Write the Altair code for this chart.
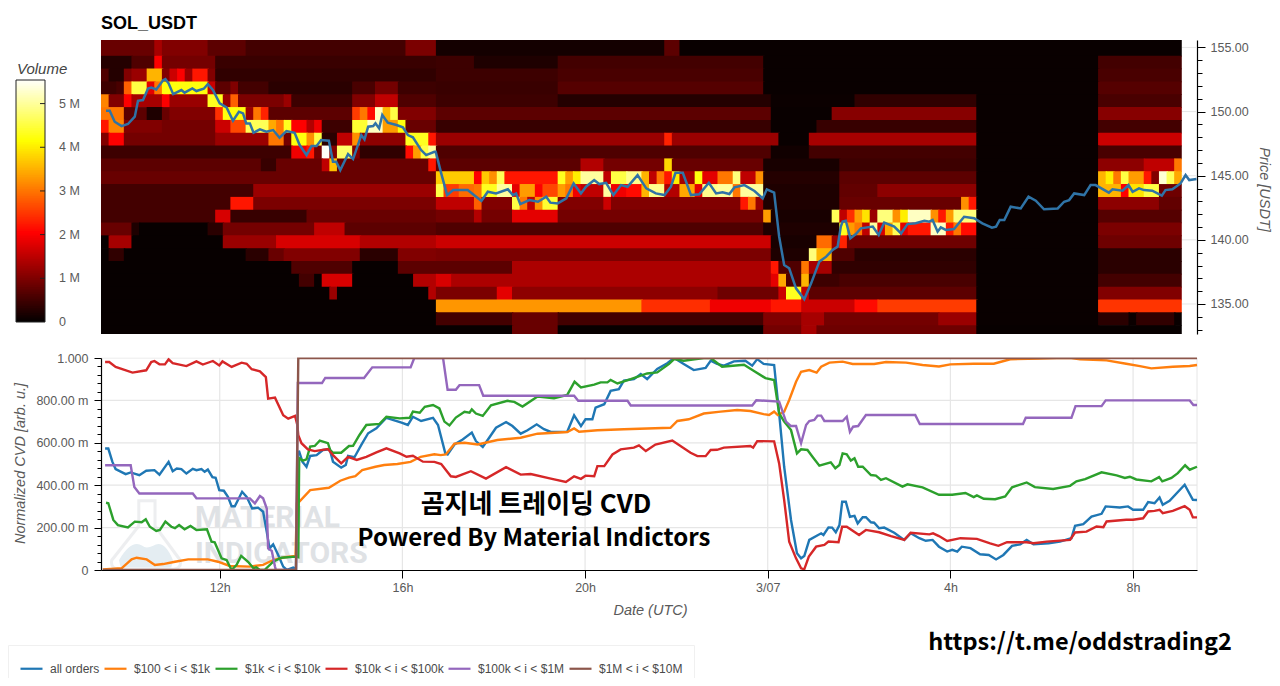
import altair as alt
import pandas as pd

# hours since 3/06 00:00 -> normalized CVD
all_orders = [(9.49,.573),(9.56,.573),(9.65,.51),(9.72,.476),(9.94,.452),(10.05,.46),(10.24,.447),(10.39,.468),(10.57,.471),(10.68,.45),(10.88,.51),(10.97,.466),(11.06,.479),(11.16,.476),(11.27,.455),(11.41,.477),(11.49,.471),(11.6,.476),(11.67,.463),(11.74,.474),(11.84,.438),(11.91,.435),(11.99,.377),(12.09,.374),(12.18,.345),(12.26,.301),(12.33,.301),(12.49,.369),(12.59,.345),(12.71,.29),(12.84,.294),(12.95,.275),(13.03,.18),(13.09,.102),(13.17,.121),(13.28,.071),(13.39,.016),(13.47,0),(13.61,.011),(13.67,.005),(13.71,.557),(13.74,.558),(13.81,.511),(13.9,.487),(13.98,.538),(14.12,.542),(14.26,.566),(14.41,.569),(14.48,.511),(14.66,.483),(14.76,.495),(14.81,.538),(14.95,.532),(15.1,.59),(15.25,.645),(15.43,.668),(15.65,.718),(15.98,.695),(16.12,.684),(16.23,.723),(16.41,.703),(16.67,.718),(16.78,.684),(16.94,.55),(16.99,.545),(17.14,.592),(17.32,.616),(17.52,.648),(17.61,.608),(17.76,.58),(17.9,.624),(18.05,.671),(18.27,.698),(18.41,.679),(18.59,.643),(18.74,.659),(18.94,.687),(19.1,.664),(19.25,.651),(19.61,.652),(19.76,.73),(19.91,.679),(20.01,.711),(20.16,.711),(20.23,.766),(20.42,.782),(20.56,.845),(20.74,.853),(20.85,.893),(21.07,.9),(21.22,.924),(21.36,.9),(21.58,.948),(21.8,.975),(21.95,1.0),(22.16,.972),(22.38,.943),(22.64,.953),(22.75,.987),(22.89,.972),(23.04,.964),(23.26,.984),(23.51,.987),(23.66,.964),(23.77,.995),(23.91,.972),(24.14,.967),(24.25,.739),(24.36,.487),(24.51,.236),(24.64,.079),(24.73,.055),(24.8,.066),(24.91,.142),(25.17,.173),(25.22,.165),(25.33,.201),(25.41,.2),(25.49,.178),(25.57,.212),(25.63,.322),(25.71,.322),(25.8,.251),(25.9,.255),(25.97,.22),(26.08,.249),(26.15,.249),(26.26,.225),(26.33,.223),(26.44,.197),(26.55,.2),(26.77,.176),(26.99,.142),(27.13,.173),(27.32,.15),(27.46,.138),(27.61,.142),(27.75,.11),(27.93,.087),(28.04,.095),(28.15,.087),(28.25,.11),(28.44,.103),(28.65,.074),(28.84,.071),(29.0,.05),(29.16,.071),(29.35,.114),(29.53,.121),(29.67,.142),(29.82,.121),(30.15,.126),(30.4,.134),(30.65,.15),(30.73,.208),(30.91,.216),(31.09,.252),(31.31,.265),(31.4,.3),(31.71,.295),(31.89,.3),(32.0,.284),(32.22,.284),(32.33,.32),(32.47,.315),(32.58,.342),(32.65,.308),(32.8,.326),(33.13,.402),(33.31,.331),(33.4,.33)]
usd_100_1k = [(9.44,.003),(9.85,.008),(10.07,.05),(10.18,.058),(10.4,.05),(10.58,.024),(10.76,.028),(11.02,.039),(11.31,.05),(11.74,.05),(11.96,.039),(12.22,.019),(12.66,.016),(12.95,.024),(13.17,.047),(13.42,.06),(13.66,.066),(13.69,.315),(13.74,.322),(13.98,.377),(14.39,.388),(14.64,.421),(14.83,.436),(14.97,.443),(15.12,.471),(15.41,.487),(15.6,.495),(15.89,.5),(16.18,.51),(16.4,.534),(16.7,.546),(16.84,.542),(16.95,.545),(17.14,.596),(17.36,.6),(17.65,.592),(18.08,.613),(18.59,.624),(18.96,.643),(19.61,.651),(19.76,.668),(19.87,.652),(20.27,.659),(20.85,.664),(21.87,.671),(22.02,.703),(22.27,.711),(22.6,.738),(22.97,.747),(23.33,.755),(23.62,.75),(23.91,.735),(24.03,.731),(24.14,.747),(24.22,.731),(24.36,.747),(24.47,.802),(24.62,.888),(24.73,.935),(24.91,.943),(25.07,.931),(25.17,.959),(25.35,.978),(25.64,.983),(25.86,.972),(26.33,.972),(26.59,.981),(27.03,.978),(27.39,.967),(27.75,.96),(28.0,.97),(28.51,.973),(28.95,.973),(29.31,.994),(29.96,.997),(30.33,1.0),(30.65,1.0),(30.84,.994),(31.42,.989),(31.85,.973),(32.15,.962),(32.4,.951),(32.87,.959),(33.24,.962),(33.4,.967)]
usd_1k_10k = [(9.51,.317),(9.56,.315),(9.67,.236),(9.77,.212),(9.99,.201),(10.14,.228),(10.29,.225),(10.38,.239),(10.47,.204),(10.61,.184),(10.69,.189),(10.81,.228),(10.94,.204),(11.02,.197),(11.11,.212),(11.23,.192),(11.36,.208),(11.49,.189),(11.72,.192),(11.82,.134),(11.89,.131),(12.04,.055),(12.15,.047),(12.26,0),(12.37,.024),(12.47,.067),(12.62,.039),(12.74,.008),(12.8,.013),(12.88,0),(12.98,0),(13.17,.039),(13.35,.058),(13.66,.063),(13.72,.06),(13.74,.527),(13.82,.516),(13.9,.522),(13.98,.582),(14.08,.585),(14.19,.61),(14.37,.598),(14.42,.566),(14.48,.553),(14.66,.553),(14.83,.585),(14.92,.586),(15.06,.637),(15.21,.684),(15.5,.689),(15.65,.723),(15.94,.715),(16.16,.718),(16.23,.747),(16.38,.742),(16.49,.77),(16.67,.778),(16.81,.762),(16.92,.7),(17.03,.682),(17.17,.719),(17.36,.746),(17.47,.742),(17.52,.758),(17.61,.738),(17.76,.727),(17.94,.777),(18.3,.798),(18.45,.793),(18.63,.771),(18.96,.818),(19.32,.81),(19.61,.826),(19.77,.888),(19.91,.861),(20.2,.874),(20.34,.885),(20.49,.885),(20.56,.897),(20.71,.88),(21.0,.9),(21.36,.927),(21.58,.932),(21.84,.972),(21.95,.995),(22.16,.987),(22.6,1.0),(22.75,1.0),(23.0,.959),(23.48,.968),(23.69,.94),(23.95,.905),(24.14,.896),(24.25,.739),(24.36,.7),(24.51,.66),(24.64,.55),(24.73,.569),(24.87,.566),(24.98,.534),(25.13,.492),(25.38,.508),(25.48,.48),(25.57,.495),(25.64,.55),(25.73,.546),(25.82,.516),(25.9,.527),(25.98,.487),(26.08,.487),(26.26,.448),(26.37,.445),(26.48,.425),(26.59,.433),(26.95,.393),(27.06,.404),(27.39,.39),(27.75,.355),(28.04,.355),(28.33,.363),(28.51,.344),(28.58,.352),(28.73,.336),(28.98,.334),(29.2,.347),(29.35,.39),(29.67,.413),(29.85,.391),(30.25,.382),(30.62,.397),(30.76,.418),(30.95,.429),(31.31,.461),(31.64,.446),(31.82,.434),(31.93,.44),(32.07,.427),(32.4,.418),(32.57,.438),(32.64,.418),(32.84,.434),(32.98,.457),(33.14,.494),(33.24,.473),(33.4,.487)]
usd_10k_100k = [(9.49,.981),(9.58,.981),(9.72,.958),(10.09,.931),(10.39,.942),(10.5,.981),(10.57,.986),(10.68,.97),(10.8,.97),(10.88,.994),(10.97,.976),(11.27,.962),(11.49,.984),(11.63,.969),(11.85,.986),(11.99,.965),(12.06,.984),(12.26,.958),(12.48,.978),(12.59,.973),(12.7,.947),(12.88,.937),(13.01,.91),(13.06,.808),(13.21,.813),(13.39,.73),(13.5,.714),(13.65,.727),(13.7,.683),(13.72,.636),(13.79,.598),(13.93,.569),(14.08,.561),(14.37,.571),(14.48,.542),(14.66,.503),(14.81,.534),(15.0,.519),(15.21,.534),(15.43,.555),(15.65,.574),(15.94,.55),(16.09,.534),(16.23,.539),(16.45,.511),(16.7,.51),(16.85,.5),(17.06,.442),(17.17,.439),(17.5,.466),(17.83,.431),(18.27,.485),(18.59,.45),(18.81,.453),(19.25,.431),(19.58,.415),(19.76,.442),(19.91,.43),(20.01,.445),(20.2,.442),(20.27,.49),(20.42,.49),(20.6,.545),(20.78,.569),(21.07,.577),(21.18,.588),(21.33,.561),(21.54,.592),(21.91,.611),(22.31,.553),(22.46,.537),(22.64,.537),(22.75,.566),(22.89,.567),(23.04,.577),(23.62,.585),(23.68,.577),(23.77,.608),(24.14,.607),(24.25,.503),(24.36,.33),(24.47,.134),(24.62,.055),(24.73,.008),(24.8,.003),(24.9,.063),(25.06,.11),(25.24,.118),(25.33,.134),(25.55,.131),(25.63,.204),(25.73,.204),(26.0,.165),(26.15,.189),(26.44,.178),(26.7,.16),(26.99,.142),(27.13,.176),(27.54,.168),(27.62,.173),(27.75,.16),(27.93,.137),(28.22,.15),(28.58,.147),(28.87,.126),(29.05,.114),(29.24,.131),(29.67,.131),(29.82,.126),(30.11,.134),(30.62,.142),(30.73,.177),(30.98,.181),(31.2,.205),(31.35,.202),(31.42,.229),(31.85,.237),(32.0,.237),(32.22,.244),(32.33,.276),(32.47,.279),(32.58,.284),(32.65,.268),(32.87,.279),(33.13,.301),(33.24,.284),(33.31,.248),(33.4,.248)]
usd_100k_1m = [(9.49,.494),(10.05,.494),(10.13,.392),(10.24,.361),(11.41,.361),(11.49,.338),(12.66,.338),(12.77,.314),(12.88,.349),(12.95,.338),(13.03,.29),(13.06,.102),(13.14,.09),(13.21,.016),(13.23,0),(13.67,0),(13.71,.882),(14.24,.882),(14.31,.906),(15.16,.906),(15.34,.956),(16.18,.956),(16.26,1.0),(16.89,1.0),(16.99,.85),(17.17,.85),(17.25,.872),(17.68,.872),(17.77,.822),(19.76,.822),(19.85,.798),(20.93,.798),(21.0,.776),(23.66,.776),(23.75,.801),(24.25,.794),(24.4,.7),(24.51,.679),(24.62,.679),(24.73,.598),(24.84,.684),(24.91,.703),(25.02,.708),(25.09,.728),(25.17,.728),(25.24,.703),(25.64,.703),(25.73,.723),(25.8,.652),(25.87,.676),(25.98,.679),(26.15,.731),(27.23,.731),(27.33,.689),(29.59,.689),(29.65,.718),(30.65,.718),(30.74,.773),(31.31,.773),(31.4,.8),(33.24,.8),(33.32,.778),(33.4,.778)]
usd_1m_10m = [(9.44,0),(13.67,0),(13.72,1.0),(33.4,1.0)]

price = [(9.51,150.06),(9.59,150.06),(9.7,149.21),(9.85,148.87),(9.99,149.03),(10.14,149.6),(10.21,150.84),(10.32,150.9),(10.43,151.8),(10.5,151.88),(10.61,151.73),(10.76,152.45),(10.81,152.53),(10.88,152.2),(10.98,151.36),(11.16,151.68),(11.23,151.47),(11.4,151.8),(11.49,151.6),(11.65,151.78),(11.74,152.14),(11.85,151.68),(12.0,150.64),(12.15,150.32),(12.29,149.29),(12.42,149.99),(12.51,149.86),(12.58,149.08),(12.66,149.08),(12.74,148.35),(12.88,148.61),(13.02,148.43),(13.17,148.56),(13.31,147.96),(13.46,148.48),(13.64,148.35),(13.75,147.39),(13.9,146.61),(14.01,147.31),(14.12,147.31),(14.22,147.78),(14.39,147.73),(14.48,146.09),(14.55,146.09),(14.64,145.44),(14.81,146.69),(14.92,146.3),(15.1,148.17),(15.17,147.83),(15.25,148.82),(15.36,148.87),(15.41,149.08),(15.49,148.69),(15.56,149.73),(15.68,149.13),(15.87,148.95),(16.01,148.77),(16.12,148.17),(16.23,147.99),(16.41,147.0),(16.52,146.61),(16.7,146.87),(16.73,146.87),(16.85,145.18),(16.98,143.49),(17.11,143.88),(17.43,143.88),(17.73,143.03),(17.87,143.75),(18.05,143.62),(18.31,143.94),(18.42,143.49),(18.49,143.62),(18.58,142.79),(18.78,143.1),(18.97,142.97),(19.15,143.36),(19.24,142.9),(19.4,142.84),(19.59,143.23),(19.75,144.4),(19.91,143.62),(20.02,144.14),(20.2,144.66),(20.31,144.35),(20.46,144.45),(20.62,143.49),(20.79,144.27),(20.93,144.14),(21.15,145.05),(21.34,144.01),(21.55,143.62),(21.74,143.49),(21.88,144.14),(21.98,145.23),(22.14,145.23),(22.32,143.49),(22.5,143.55),(22.71,144.45),(22.87,143.62),(23.01,143.7),(23.16,143.57),(23.27,144.09),(23.49,144.27),(23.71,143.81),(23.89,143.23),(23.98,143.94),(24.14,143.68),(24.25,140.25),(24.36,138.04),(24.47,137.78),(24.62,136.22),(24.8,135.36),(24.95,136.61),(25.13,138.3),(25.28,138.69),(25.42,139.21),(25.53,139.47),(25.6,141.03),(25.64,141.42),(25.71,141.49),(25.81,140.12),(25.93,140.45),(26.04,140.9),(26.3,141.03),(26.43,140.38),(26.55,141.34),(26.77,141.03),(26.92,140.5),(27.06,141.23),(27.24,141.29),(27.43,141.49),(27.54,141.42),(27.61,141.55),(27.72,140.64),(27.79,140.97),(27.9,140.77),(28.08,140.84),(28.3,141.8),(28.52,141.68),(28.7,141.29),(28.91,140.95),(29.0,141.03),(29.08,141.55),(29.18,141.55),(29.32,142.58),(29.54,142.45),(29.71,143.36),(29.87,143.05),(30.05,142.38),(30.35,142.45),(30.49,142.97),(30.6,143.1),(30.71,143.62),(30.93,143.49),(31.07,144.27),(31.18,144.27),(31.47,143.68),(31.55,143.94),(31.77,143.83),(31.9,144.27),(31.99,143.75),(32.13,144.01),(32.24,143.88),(32.42,143.83),(32.63,143.44),(32.71,143.88),(32.86,143.94),(33.04,144.4),(33.15,145.05),(33.23,144.66),(33.39,144.74)]

# volume heatmap, one row per 1 USD from the top; (column the run ends at, volume in M)
vol_rows = [
    [(7,.8),(8,1.3),(14,1.0),(19,.7),(40,.5),(44,.95),(74,.12),(76,.7),(142,.03)],
    [(4,.25),(7,.6),(8,2.0),(15,.9),(44,.42),(49,.45),(60,.2),(87,.5),(131,.03),(142,.5)],
    [(1,.6),(3,.25),(4,1.0),(6,1.2),(8,3.5),(9,1.0),(10,1.6),(11,2.0),(12,1.2),(14,2.2),(15,1.0),(44,.35),(60,.45),(87,.55),(131,.03),(142,.55)],
    [(2,.45),(3,.55),(4,2.8),(6,4.5),(7,1.8),(8,3.0),(14,4.2),(15,1.6),(17,.7),(18,1.0),(22,.5),(33,.3),(36,.55),(39,.9),(44,.45),(60,.42),(87,.65),(131,.03),(142,.65)],
    [(1,3.1),(3,1.0),(4,2.0),(8,1.3),(9,2.0),(14,1.2),(16,4.3),(17,1.2),(18,2.8),(24,.95),(25,1.2),(33,.45),(36,1.0),(39,1.5),(44,.6),(60,.45),(88,.25),(99,.05),(115,.35),(131,.03),(142,.55)],
    [(3,3.0),(6,.7),(8,.2),(9,.8),(15,1.0),(16,2.4),(19,4.2),(20,1.2),(21,3.0),(22,2.3),(33,.7),(34,2.5),(35,3.0),(36,2.1),(37,5.2),(38,3.5),(39,4.5),(44,1.0),(88,.7),(96,.03),(115,1.05),(131,.03),(142,1.05)],
    [(1,2.2),(3,3.1),(8,1.0),(15,.9),(17,1.6),(19,2.6),(22,4.6),(23,3.4),(24,3.0),(25,4.3),(27,2.0),(28,1.4),(29,1.9),(33,.45),(35,4.4),(37,5.2),(39,3.3),(40,4.2),(44,.8),(88,.4),(94,.03),(115,.4),(131,.03),(142,.5)],
    [(1,1.0),(3,2.0),(15,.9),(22,1.2),(24,3.0),(25,.9),(27,4.2),(28,3.2),(29,4.5),(31,.3),(33,1.5),(34,3.2),(40,1.1),(43,4.3),(44,2.2),(74,1.2),(75,2.3),(89,1.2),(93,.03),(115,1.3),(131,.03),(142,1.6)],
    [(25,.45),(27,1.9),(28,2.2),(29,.9),(30,5.5),(31,1.0),(33,4.7),(34,1.0),(40,.35),(41,2.1),(42,3.3),(43,4.5),(44,5.0),(88,.6),(93,.1),(115,.5),(131,.03),(142,.55)],
    [(21,.7),(23,.4),(29,.8),(30,1.5),(31,3.6),(43,.8),(44,2.2),(63,.7),(66,1.4),(74,.9),(75,3.8),(87,.8),(97,.15),(115,.45),(131,.03),(137,1.1),(141,1.5),(142,3.0)],
    [(44,.8),(49,3.7),(50,2.0),(51,3.7),(52,3.2),(53,4.6),(60,2.2),(61,4.3),(62,3.3),(63,4.0),(66,5.0),(67,1.5),(69,4.5),(71,4.9),(72,3.5),(73,1.5),(74,3.0),(75,2.2),(76,4.0),(78,1.3),(79,4.2),(81,1.8),(83,3.0),(84,4.8),(86,1.5),(87,3.2),(97,.25),(115,.7),(131,.03),(132,3.5),(133,4.0),(134,3.0),(135,4.5),(137,3.3),(138,2.2),(139,1.0),(140,5.3),(141,4.6),(142,3.4)],
    [(20,.5),(44,1.2),(45,4.5),(47,2.5),(49,2.9),(50,3.0),(52,4.3),(54,5.0),(55,1.8),(57,3.3),(58,2.0),(60,2.6),(61,3.3),(62,3.0),(63,1.9),(66,1.5),(67,5.0),(69,1.9),(71,2.1),(72,3.5),(74,4.9),(76,1.4),(78,3.4),(79,1.8),(81,4.9),(83,5.0),(84,3.0),(87,5.0),(97,.2),(102,.75),(115,1.1),(131,.03),(134,3.5),(135,2.0),(137,3.9),(139,4.5),(142,.85)],
    [(17,.5),(20,2.2),(44,.95),(49,1.5),(50,2.8),(54,1.0),(55,4.5),(56,3.0),(57,1.5),(58,3.2),(60,4.4),(66,1.0),(67,1.6),(84,1.0),(85,2.2),(86,3.0),(87,1.2),(97,.2),(113,.8),(114,3.2),(115,2.2),(131,.03),(139,1.1),(142,.75)],
    [(15,.5),(17,1.7),(27,.4),(44,.8),(49,.9),(50,1.4),(54,.9),(60,1.8),(87,.9),(88,3.3),(96,.15),(97,4.6),(98,1.5),(99,2.4),(100,3.3),(101,3.9),(102,1.2),(104,4.8),(105,3.2),(106,4.0),(109,5.2),(110,3.2),(111,2.2),(112,3.3),(115,4.8),(131,.03),(142,.65)],
    [(4,.8),(5,.2),(14,.02),(16,.3),(28,.9),(32,1.5),(44,.7),(87,.6),(97,.2),(98,4.3),(99,3.3),(100,3.0),(101,1.5),(102,5.0),(103,1.7),(104,3.4),(105,4.6),(106,1.8),(109,2.2),(111,5.2),(112,2.2),(113,3.0),(115,2.1),(131,.03),(142,.95)],
    [(1,.02),(4,1.3),(16,.02),(23,1.2),(34,1.7),(44,1.4),(88,1.6),(94,.15),(96,2.9),(97,1.2),(98,2.3),(115,.85),(131,.03),(142,.85)],
    [(1,.02),(3,.35),(19,.02),(22,.3),(24,.8),(34,1.0),(39,.3),(44,1.0),(88,.95),(93,.2),(94,4.8),(96,3.5),(99,.6),(115,.3),(131,.03),(142,.3)],
    [(25,.02),(33,.6),(39,.02),(54,.7),(88,1.35),(89,2.2),(92,.6),(93,3.0),(96,1.3),(115,.35),(131,.03),(142,.3)],
    [(26,.02),(28,.5),(29,.02),(33,1.7),(41,.02),(44,1.4),(46,1.7),(88,1.35),(89,1.8),(90,3.4),(92,.6),(93,3.5),(97,.45),(115,.55),(131,.03),(142,.5)],
    [(30,.02),(31,1.2),(43,.02),(44,1.4),(52,.95),(54,1.8),(81,1.1),(89,.85),(90,1.6),(92,4.3),(93,1.5),(115,.7),(131,.03),(142,1.0)],
    [(44,.02),(71,3.25),(80,2.4),(88,1.9),(92,2.2),(99,1.6),(102,2.1),(115,2.5),(131,.03),(142,2.45)],
    [(44,.02),(54,.5),(60,.8),(87,.5),(92,1.0),(95,1.3),(110,.9),(115,1.2),(131,.03),(135,.3),(136,.05),(141,.35),(142,.03)],
    [(54,.02),(60,.8),(87,.02),(92,.9),(94,1.3),(115,.85),(142,.02)],
]

series_names = ['all orders', '$100 < i < $1k', '$1k < i < $10k', '$10k < i < $100k', '$100k < i < $1M', '$1M < i < $10M']
series_points = [all_orders, usd_100_1k, usd_1k_10k, usd_10k_100k, usd_100k_1m, usd_1m_10m]
series_colors = ['#1f77b4', '#ff7f0e', '#2ca02c', '#d62728', '#9467bd', '#8c564b']

time_ticks = [12, 16, 20, 24, 28, 32]
price_major = [135, 140, 145, 150, 155]
price_ticks = list(range(133, 156))
cvd_major = [0, .2, .4, .6, .8, 1.0]
cvd_ticks = [round(i * .04, 2) for i in range(26)]
vol_ticks = [0, 1, 2, 3, 4, 5]
vol_stops = [0, 1.01, 2.02, 3.07, 4.13, 4.83, 5.54]
hot_colors = ['#050000', '#820000', '#ff0000', '#ff8000', '#ffff00', '#ffff80', '#ffffff']
vol_bar = [round(i * .04, 2) for i in range(139)]

FONT = 'Liberation Sans'
GREY = '#5a5a5a'
GRID = '#e6e6e6'
W, H = 1096, 530

x_scale = alt.Scale(domain=[9.4, 33.4], nice=False, zero=False)
price_scale = alt.Scale(domain=[132.66, 155.58], range=[294, 0], nice=False, zero=False)
cvd_scale = alt.Scale(domain=[0, 1], range=[530, 318], nice=False)
bar_scale = alt.Scale(domain=[0, 5.54], range=[282, 40], nice=False)
hot_scale = alt.Scale(domain=vol_stops, range=hot_colors, interpolate='rgb', nice=False)

# the x axis is shared, axis=None on any one layer would switch it off for all
x_axis = alt.Axis(
    orient='bottom', values=time_ticks, title='Date (UTC)', grid=False, zindex=1,
    labelExpr="datum.value == 24 ? '3/07' : (datum.value % 24) + 'h'",
    labelFont=FONT, labelFontSize=12.5, labelColor=GREY, labelPadding=3,
    titleFont=FONT, titleFontSize=14.5, titleFontStyle='italic', titleFontWeight='normal',
    titleColor=GREY, titleX=549, titleY=40, titleAlign='center', titleBaseline='middle',
    tickColor='black', tickSize=8, domainColor='black', domainWidth=1.2,
)

# heatmap, each run slightly overlaps the next one so no seams show
cells = []
for r, row in enumerate(vol_rows):
    start = 0
    for end, vol in row:
        cells.append({'x0': 9.4 + start / 6, 'x1': 9.4 + end / 6 + (.03 if end < 142 else 0),
                      'p0': max(154.35 - r - .06, 132.66), 'p1': 155.58 if r == 0 else 155.35 - r,
                      'vol': vol})
        start = end
heat = alt.Chart(pd.DataFrame(cells)).mark_rect().encode(
    x=alt.X('x0:Q', scale=x_scale, axis=x_axis),
    x2='x1:Q',
    y=alt.Y('p0:Q', scale=price_scale, axis=None),
    y2='p1:Q',
    color=alt.Color('vol:Q', scale=hot_scale, legend=None),
)

price_df = pd.DataFrame(price, columns=['h', 'p'])
price_line = alt.Chart(price_df).mark_line(color='#2f73a6', strokeWidth=2.5).encode(
    x=alt.X('h:Q', scale=x_scale, axis=x_axis),
    y=alt.Y('p:Q', scale=price_scale, axis=alt.Axis(
        orient='right', values=price_ticks, title='Price [USDT]', titleAngle=90,
        titleFont=FONT, titleFontSize=14.5, titleFontStyle='italic', titleFontWeight='normal',
        titleColor=GREY, titleX=66, titleY=149, titleAlign='center', titleBaseline='middle',
        labelFont=FONT, labelFontSize=12.5, labelColor=GREY, labelPadding=5,
        labelExpr="datum.value % 5 == 0 ? format(datum.value, '.2f') : ''",
        tickColor='black', domainColor='black', domainWidth=1.2, grid=False,
        tickSize={'condition': {'test': 'datum.value % 5 == 0', 'value': 8}, 'value': 5},
    )),
)
price_grid = alt.Chart(pd.DataFrame({'p': price_major})).mark_rule(color=GRID).encode(
    x=alt.value(W - 15), x2=alt.value(W),
    y=alt.Y('p:Q', scale=price_scale, axis=None),
)

# colour bar
bar_df = pd.DataFrame({'v0': vol_bar, 'v1': [min(v + .1, 5.54) for v in vol_bar]})
bar_rects = alt.Chart(bar_df).mark_rect().encode(
    x=alt.value(-85), x2=alt.value(-56),
    y=alt.Y('v0:Q', scale=bar_scale, axis=None), y2='v1:Q',
    color=alt.Color('v0:Q', scale=hot_scale, legend=None),
)
bar_frame = alt.Chart(pd.DataFrame({'a': [0], 'b': [5.54]})).mark_rect(fillOpacity=0, stroke='#222222', strokeWidth=1).encode(
    x=alt.value(-85), x2=alt.value(-56),
    y=alt.Y('a:Q', scale=bar_scale, axis=None), y2='b:Q',
)
tick_df = pd.DataFrame({'v': vol_ticks, 'label': ['0'] + [f'{v} M' for v in vol_ticks[1:]]})
bar_ticks = alt.Chart(tick_df[tick_df.v > 0]).mark_rule(color='#222222').encode(
    x=alt.value(-61), x2=alt.value(-56),
    y=alt.Y('v:Q', scale=bar_scale, axis=None),
)
bar_labels = alt.Chart(tick_df).mark_text(align='left', baseline='middle', font=FONT, fontSize=12.5, color=GREY).encode(
    x=alt.value(-42),
    y=alt.Y('v:Q', scale=bar_scale, axis=None),
    text='label:N',
)
bar_title = alt.Chart(pd.DataFrame({'t': ['Volume']})).mark_text(
    align='left', baseline='middle', font=FONT, fontSize=15, fontStyle='italic', color='#444444',
).encode(x=alt.value(-84), y=alt.value(29), text='t:N')

# lower panel grid and axes
grid_h = alt.Chart(pd.DataFrame({'v': cvd_major[1:]})).mark_rule(color=GRID, strokeWidth=1.2).encode(
    x=alt.value(0), x2=alt.value(W),
    y=alt.Y('v:Q', scale=cvd_scale, axis=alt.Axis(
        orient='left', values=cvd_ticks, title='Normalized CVD [arb. u.]', grid=False, zindex=1,
        titleFont=FONT, titleFontSize=14.5, titleFontStyle='italic', titleFontWeight='normal',
        titleColor=GREY, titleAngle=270, titleX=-81, titleY=423, titleAlign='center', titleBaseline='middle',
        labelFont=FONT, labelFontSize=12.5, labelColor=GREY, labelPadding=6,
        labelExpr="round(datum.value * 100) % 20 != 0 ? '' : (datum.value == 1 ? '1.000' : (datum.value == 0 ? '0' : format(datum.value * 1000, '.2f') + ' m'))",
        tickColor='black', domainColor='black', domainWidth=1.2,
        tickSize={'condition': {'test': 'round(datum.value * 100) % 20 == 0', 'value': 7}, 'value': 4},
    )),
)
grid_v = alt.Chart(pd.DataFrame({'h': time_ticks})).mark_rule(color=GRID, strokeWidth=1.2).encode(
    x=alt.X('h:Q', scale=x_scale, axis=x_axis),
    y=alt.value(318), y2=alt.value(530),
)
edge = alt.Chart(pd.DataFrame({'a': [0]})).mark_rule(color=GRID).encode(
    x=alt.value(W), y=alt.value(318), y2=alt.value(530),
)


def caption(text, x, y, **style):
    # one fixed piece of text on the chart
    return alt.Chart(pd.DataFrame({'t': [text]})).mark_text(baseline='middle', **style).encode(
        x=alt.value(x), y=alt.value(y), text='t:N')


# watermark
flask = alt.Chart(pd.DataFrame({'a': [0]})).mark_point(
    shape='M-0.2,-0.95L0.25,-0.95L0.25,-0.25L0.95,0.7Q1,0.95 0.7,0.95L-0.7,0.95Q-1,0.95 -0.95,0.7L-0.2,-0.25Z',
    size=5200, filled=False, stroke='#e6e8ea', strokeWidth=3,
).encode(x=alt.value(45), y=alt.value(495))
flask_fill = alt.Chart(pd.DataFrame({'a': [0]})).mark_point(
    shape='M-0.75,0.7Q-0.4,0.1 -0.1,0.3Q0,0.4 0.2,0.3Q0.5,0.1 0.75,0.7L0.7,0.9L-0.7,0.9Z',
    size=5200, filled=True, fill='#e4edf2', opacity=1, strokeWidth=0,
).encode(x=alt.value(45), y=alt.value(495))
wm_style = dict(align='left', font='Roboto', fontWeight='bold', fontSize=30, color='#dfe2e5')
wm_top = caption('MATERIAL', 94, 478, **wm_style)
wm_low = caption('INDICATORS', 94, 514, **wm_style)

# CVD lines
rows = []
for name, pts in zip(series_names, series_points):
    for h, v in pts:
        rows.append({'series': name, 'h': h, 'v': v})
lines_df = pd.DataFrame(rows)
lines = alt.Chart(lines_df).mark_line(strokeWidth=2.4).encode(
    x=alt.X('h:Q', scale=x_scale, axis=x_axis),
    y=alt.Y('v:Q', scale=cvd_scale, axis=None),
    color=alt.Color('series:N', sort=series_names, scale=alt.Scale(domain=series_names, range=series_colors), legend=alt.Legend(
        orient='none', legendX=-93, legendY=605, direction='horizontal', columns=6, title=None,
        symbolType='stroke', symbolSize=484, symbolStrokeWidth=2.2, columnPadding=0, labelOffset=6,
        labelFont=FONT, labelFontSize=12, labelColor='#4a4a4a', labelLimit=200,
        fillColor='white', strokeColor='#f0f0f0', padding=11,
    )),
)

# the lines stop at the panel edge, half of a line on the edge is cut away
mask_top = alt.Chart(pd.DataFrame({'a': [0]})).mark_rect(color='white').encode(
    x=alt.value(0), x2=alt.value(W), y=alt.value(314), y2=alt.value(317.6))
mask_low = alt.Chart(pd.DataFrame({'a': [0]})).mark_rect(color='white').encode(
    x=alt.value(0), x2=alt.value(W), y=alt.value(530.2), y2=alt.value(534))

# overlaid captions
note_style = dict(align='center', font='Noto Sans CJK KR', fontWeight='bold', color='black')
note_ko = caption('곰지네 트레이딩 CVD', 435, 465, fontSize=26, **note_style)
note_en = caption('Powered By Material Indictors', 433, 499, fontSize=24, **note_style)
note_url = caption('https://t.me/oddstrading2', 979, 603, fontSize=23.5, **note_style)

chart = alt.layer(
    heat, price_grid, price_line,
    bar_rects, bar_ticks, bar_frame, bar_labels, bar_title,
    grid_v, grid_h, edge, flask_fill, flask, wm_top, wm_low,
    lines, mask_top, mask_low, note_ko, note_en, note_url,
).resolve_scale(y='independent', color='independent').properties(
    width=W, height=H,
    title=alt.TitleParams('SOL_USDT', anchor='start', frame='group', font=FONT, fontSize=18, fontWeight='bold', color='black', offset=7),
    autosize=alt.AutoSizeParams(type='none'),
    padding={'left': 93, 'top': 32, 'right': 75, 'bottom': 108},
).configure_view(strokeWidth=0)

chart.save("out.html", embed_options={"renderer": "svg", "actions": False})
